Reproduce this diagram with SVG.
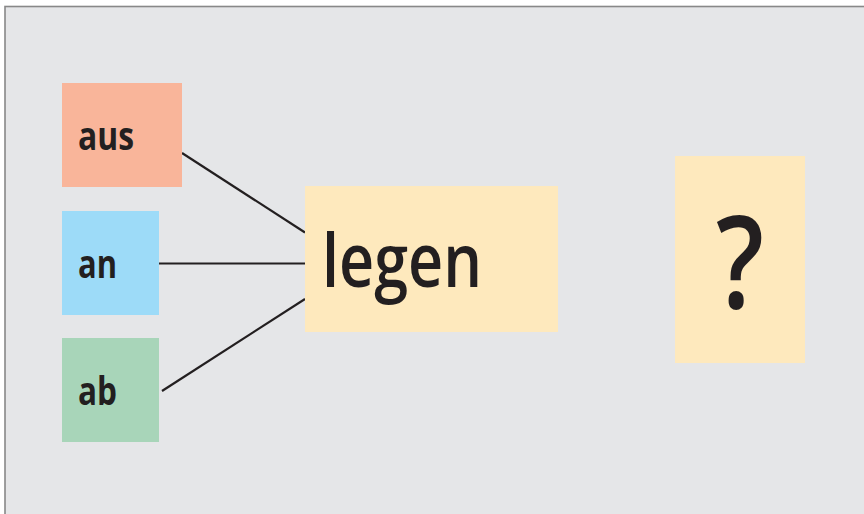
<svg xmlns="http://www.w3.org/2000/svg" width="864" height="514" viewBox="0 0 864 514">
<style>
text{font-family:"Open Sans","Liberation Sans",sans-serif;font-weight:600;fill:#231f20}
.s{font-size:40px;font-weight:700}
.c{stroke:#231f20;stroke-width:2.2;fill:none}
</style>
<rect x="0" y="0" width="864" height="514" fill="#ffffff"/>
<rect x="5" y="6.5" width="900" height="600" fill="#e5e6e8" stroke="#888888" stroke-width="1.6"/>
<g id="connectors">
<line class="c" x1="182" y1="153" x2="305" y2="232.5"/>
<line class="c" x1="159" y1="263.5" x2="305" y2="263.5"/>
<line class="c" x1="162" y1="391" x2="305" y2="299"/>
</g>
<g id="aus"><rect x="62" y="83" width="120" height="104" fill="#f9b59a"/><text class="s" x="78" y="150" textLength="56" lengthAdjust="spacingAndGlyphs">aus</text></g>
<g id="an"><rect x="62" y="211" width="97" height="104" fill="#9ddbf8"/><text class="s" x="78" y="277.5" textLength="39" lengthAdjust="spacingAndGlyphs">an</text></g>
<g id="ab"><rect x="62" y="338" width="97" height="104" fill="#a8d5b9"/><text class="s" x="78" y="405" textLength="39" lengthAdjust="spacingAndGlyphs">ab</text></g>
<g id="legen"><rect x="305" y="186" width="253" height="146" fill="#fee9bd"/><text x="322" y="287" font-size="74" textLength="160" lengthAdjust="spacingAndGlyphs">legen</text></g>
<g id="question"><rect x="675" y="156" width="130" height="207" fill="#fee9bd"/><text x="716" y="308" font-size="128" font-weight="700" textLength="48" lengthAdjust="spacingAndGlyphs">?</text></g>
</svg>
